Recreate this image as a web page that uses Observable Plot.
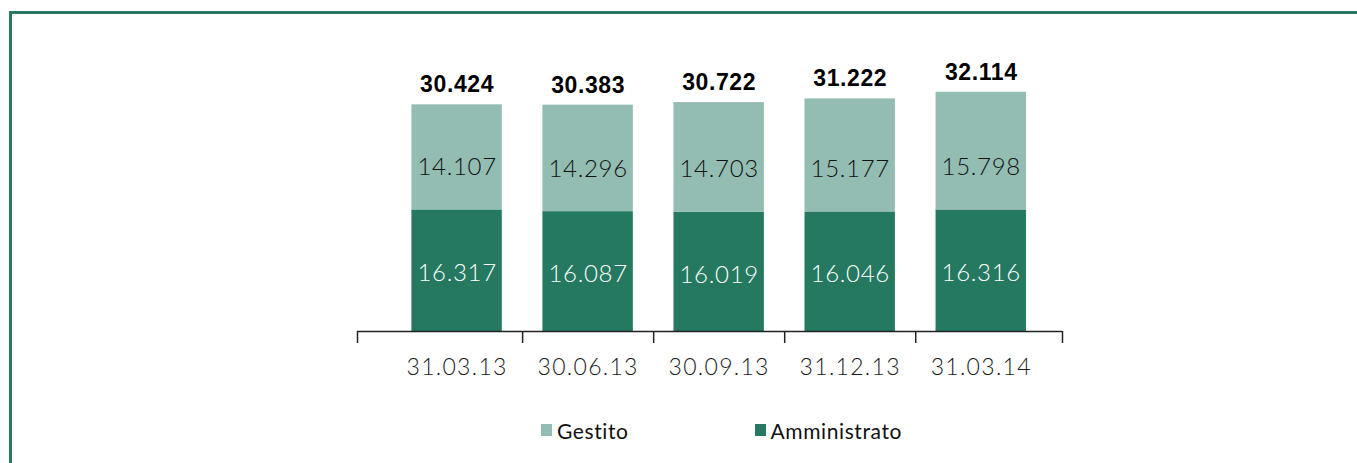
<!DOCTYPE html>
<html>
<head>
<meta charset="utf-8">
<script src="https://cdn.jsdelivr.net/npm/d3@7"></script>
<script src="https://cdn.jsdelivr.net/npm/@observablehq/plot@0.6"></script>
<style>
  html, body { margin: 0; padding: 0; background: #ffffff; }
  body { width: 1357px; height: 463px; position: relative; overflow: hidden; font-family: Lato, "Noto Sans", sans-serif; }
  #frame { position: absolute; left: 9px; top: 11px; width: 1420px; height: 520px;
           border-top: 3px solid #2a7a63; border-left: 3px solid #2a7a63; box-sizing: border-box; }
  #chart { position: absolute; left: 0; top: 0; }
  #legend { position: absolute; left: 0; top: 418px; width: 1357px; display: flex; padding-left: 541px;
            box-sizing: border-box; gap: 126px; font-size: 21px; color: #111; letter-spacing: 0.6px; font-weight: 400; }
  .item { display: flex; align-items: center; gap: 5px; }
  .sw { width: 11px; height: 12px; display: inline-block; margin-top: -2px; }
</style>
</head>
<body>
<div id="frame"></div>
<div id="chart"></div>
<div id="legend"></div>
<script>
// Data (values in thousands, Italian notation)
const dates = ["31.03.13", "30.06.13", "30.09.13", "31.12.13", "31.03.14"];
const amministrato = [16317, 16087, 16019, 16046, 16316];
const gestito = [14107, 14296, 14703, 15177, 15798];
const totali = [30424, 30383, 30722, 31222, 32114];
const series = ["Gestito", "Amministrato"];
const colors = ["#93bcb2", "#257961"];

const it = d3.formatLocale({decimal: ",", thousands: ".", grouping: [3], currency: ["€", ""]});
const fmt = it.format(",d");

const rows = dates.map((d, i) => ({
  i, date: d, amm: amministrato[i], ges: gestito[i], tot: totali[i]
}));

const half = 0.345;            // half bar width in category units
const tickPos = [-0.76, 0.5, 1.5, 2.5, 3.5, 4.62];

const chart = Plot.plot({
  width: 1357,
  height: 400,
  marginLeft: 357,
  marginRight: 295,
  marginTop: 33,
  marginBottom: 69,
  x: {type: "linear", domain: [-0.76, 4.62], axis: null},
  y: {domain: [0, 40000], axis: null},
  style: {background: "transparent", overflow: "visible"},
  marks: [
    Plot.rect(rows, {x1: d => d.i - half, x2: d => d.i + half, y1: 0, y2: "amm", fill: colors[1]}),
    Plot.rect(rows, {x1: d => d.i - half, x2: d => d.i + half, y1: "amm", y2: "tot", fill: colors[0]}),
    Plot.ruleY([0], {stroke: "#222", strokeWidth: 1.5}),
    Plot.ruleX(tickPos, {y1: 0, y2: -1610, stroke: "#222", strokeWidth: 1.5}),
    Plot.text(rows, {x: "i", y: 0, text: "date", dy: 36, fontSize: 23, fontWeight: 300, fontFamily: "Lato, sans-serif", fill: "#1a1a1a"}),
    Plot.text(rows, {x: "i", y: d => d.amm / 2, text: d => fmt(d.amm), fontSize: 24, fontWeight: 300, fontFamily: "Lato, sans-serif", fill: "#ffffff", dy: 3}),
    Plot.text(rows, {x: "i", y: d => d.amm + 5700, text: d => fmt(d.ges), fontSize: 24, fontWeight: 300, fontFamily: "Lato, sans-serif", fill: "#111111"}),
    Plot.text(rows, {x: "i", y: "tot", text: d => fmt(d.tot), dy: -20, fontSize: 23, fontWeight: "bold",
                     fontFamily: "'Liberation Sans', Arial, sans-serif", fill: "#000"})
  ]
});
document.getElementById("chart").appendChild(chart);

// letter spacing per text layer (marks order: rect, rect, ruleY, ruleX, dates, amm, ges, tot)
const layers = Array.from(chart.children).filter(n => n.tagName.toLowerCase() === "g");
const spacing = {4: "1.3px", 5: "0.7px", 6: "0.7px", 7: "0.6px"};
layers.forEach((g, k) => { if (spacing[k]) g.setAttribute("letter-spacing", spacing[k]); });

const legend = document.getElementById("legend");
series.forEach((s, k) => {
  const item = document.createElement("div");
  item.className = "item";
  const sw = document.createElement("span");
  sw.className = "sw";
  sw.style.background = colors[k];
  const label = document.createElement("span");
  label.textContent = s;
  item.appendChild(sw);
  item.appendChild(label);
  legend.appendChild(item);
});
</script>
</body>
</html>
